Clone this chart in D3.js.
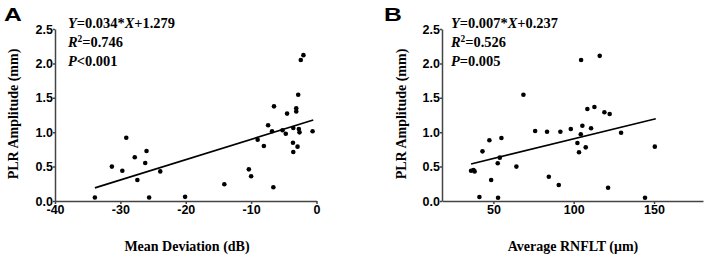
<!DOCTYPE html>
<html>
<head>
<meta charset="utf-8">
<script src="https://cdn.jsdelivr.net/npm/d3@7"></script>
<style>
  html, body { margin: 0; padding: 0; background: #fff; }
  svg { display: block; }
  .tick text { font-family: "Liberation Sans", Arial, sans-serif; font-weight: bold; font-size: 12.5px; fill: #000; }
  .axis path, .axis line { stroke: #444; stroke-width: 1.5; }
  .title { font-family: "Liberation Serif", "Times New Roman", serif; font-weight: bold; font-size: 14px; fill: #000; }
  .ann { font-family: "Liberation Serif", "Times New Roman", serif; font-weight: bold; font-size: 14.5px; fill: #000; }
  .letter { font-family: "Liberation Sans", Arial, sans-serif; font-weight: bold; font-size: 19px; fill: #000; }
</style>
</head>
<body>
<svg id="chart" width="708" height="258"></svg>
<script>
// ---------- Panel A data: Mean Deviation (dB) vs PLR Amplitude (mm) ----------
const mdX = [-29.1, -31.3, -29.7, -27.8, -26.0, -26.2, -23.9, -27.4, -33.9, -25.6, -20.1,
             -2.0, -2.4, -2.8, -6.5, -3.1, -3.1, -4.5, -7.4, -6.8, -5.2, -4.7, -3.55, -2.7, -2.6, -0.6,
             -9.0, -8.05, -3.6, -2.9, -3.55, -10.35, -10.0, -14.1, -6.6];
const mdY = [0.92, 0.50, 0.44, 0.635, 0.727, 0.552, 0.43, 0.305, 0.05, 0.05, 0.06,
             2.12, 2.05, 1.545, 1.376, 1.347, 1.30, 1.27, 1.10, 1.013, 1.028, 0.978, 1.061, 1.047, 0.998, 1.013,
             0.89, 0.80, 0.847, 0.79, 0.712, 0.46, 0.36, 0.243, 0.20];
const fitAx = [-33.9, -0.5];
const fitAy = [0.19, 1.177];
const annA = ["0.034", "1.279", "0.746", "<0.001"];

// ---------- Panel B data: Average RNFLT (µm) vs PLR Amplitude (mm) ----------
const rnX = [68.7, 76.0, 83.4, 91.7, 98.2, 47.5, 55.0, 43.2, 54.0, 52.7, 64.3, 36.1, 37.6, 38.3,
             48.6, 84.5, 90.7, 41.3, 52.9, 104.6, 116.2, 108.5, 112.9, 119.1, 122.4, 105.4, 110.8,
             104.4, 129.5, 102.3, 107.5, 103.3, 150.5, 121.4, 144.4];
const rnY = [1.545, 1.017, 1.007, 1.007, 1.047, 0.882, 0.916, 0.722, 0.63, 0.548, 0.50, 0.44, 0.45, 0.43,
             0.305, 0.353, 0.233, 0.058, 0.048, 2.05, 2.11, 1.337, 1.366, 1.289, 1.265, 1.094, 1.057,
             0.97, 0.993, 0.843, 0.78, 0.708, 0.79, 0.193, 0.048];
const fitBx = [36.1, 151.1];
const fitBy = [0.538, 1.196];
const annB = ["0.007", "0.237", "0.526", "=0.005"];

const yTicks = [0, 0.5, 1.0, 1.5, 2.0, 2.5];
const xTicksA = [-40, -30, -20, -10, 0];
const xTicksB = [50, 100, 150];

const svg = d3.select("#chart");

function panel(cfg) {
  const g = svg.append("g");
  const x = d3.scaleLinear().domain(cfg.xDomain).range(cfg.xRange);
  const y = d3.scaleLinear().domain([0, 2.5]).range([201, 29]);

  // axes
  g.append("g").attr("class", "axis").attr("transform", `translate(0,${y(0)})`)
    .call(d3.axisBottom(x).tickValues(cfg.xTicks).tickFormat(d3.format("d"))
      .tickSizeInner(3).tickSizeOuter(0).tickPadding(1))
    .call(a => a.selectAll(".tick text").text(d => d < 0 ? "-" + Math.abs(d) : d));
  g.append("g").attr("class", "axis").attr("transform", `translate(${cfg.xRange[0]},0)`)
    .call(d3.axisLeft(y).tickValues(yTicks).tickFormat(d3.format(".1f"))
      .tickSizeInner(2).tickSizeOuter(0).tickPadding(0));

  // fit line
  const line = d3.line().x(d => x(d[0])).y(d => y(d[1]));
  g.append("path").datum(d3.zip(cfg.fitX, cfg.fitY)).attr("d", line)
    .attr("fill", "none").attr("stroke", "#000").attr("stroke-width", 1.7);

  // points
  g.selectAll("circle.pt").data(d3.zip(cfg.xs, cfg.ys)).join("circle")
    .attr("class", "pt").attr("cx", d => x(d[0])).attr("cy", d => y(d[1]))
    .attr("r", 2.3).attr("fill", "#000");

  // annotation (stretched horizontally to the reference's width)
  const ag = g.append("g");
  const t1 = ag.append("text").attr("class", "ann").attr("x", 0).attr("y", 28.5);
  t1.append("tspan").attr("font-style", "italic").text("Y");
  t1.append("tspan").text("=" + cfg.ann[0] + "*");
  t1.append("tspan").attr("font-style", "italic").text("X");
  t1.append("tspan").text("+" + cfg.ann[1]);
  const t2 = ag.append("text").attr("class", "ann").attr("x", 0).attr("y", 47);
  t2.append("tspan").attr("font-style", "italic").text("R");
  t2.append("tspan").attr("font-size", "9.5px").attr("dy", -5).text("2");
  t2.append("tspan").attr("dy", 5).text("=" + cfg.ann[2]);
  const t3 = ag.append("text").attr("class", "ann").attr("x", 0).attr("y", 65.7);
  t3.append("tspan").attr("font-style", "italic").text("P");
  t3.append("tspan").text(cfg.ann[3]);
  const w = t1.node().getComputedTextLength();
  const s = w > 0 ? 107 / w : 1;
  ag.attr("transform", `translate(${cfg.annX},0) scale(${s},1)`);

  // axis titles
  g.append("text").attr("class", "title").attr("text-anchor", "middle")
    .attr("x", cfg.xTitleX).attr("y", 251).text(cfg.xTitle);
  g.append("text").attr("class", "title").attr("text-anchor", "middle")
    .attr("transform", `translate(${cfg.yTitleX},114) rotate(-90)`).text("PLR Amplitude (mm)");

  // panel letter
  g.append("text").attr("class", "letter")
    .attr("transform", `translate(${cfg.letterX},21) scale(1.3,1)`).text(cfg.letter);
}

panel({
  xs: mdX, ys: mdY, fitX: fitAx, fitY: fitAy, ann: annA,
  xDomain: [-40, 0], xRange: [55, 316.5], xTicks: xTicksA,
  annX: 68, xTitle: "Mean Deviation (dB)", xTitleX: 187, yTitleX: 18,
  letter: "A", letterX: 4
});
panel({
  xs: rnX, ys: rnY, fitX: fitBx, fitY: fitBy, ann: annB,
  xDomain: [18, 180.5], xRange: [442, 703], xTicks: xTicksB,
  annX: 451, xTitle: "Average RNFLT (\u03bcm)", xTitleX: 573, yTitleX: 406,
  letter: "B", letterX: 384
});
</script>
</body>
</html>
